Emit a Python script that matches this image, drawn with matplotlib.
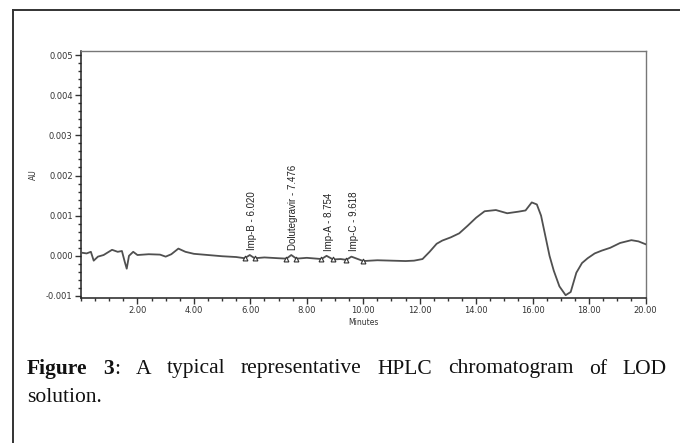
import numpy as np
import matplotlib
matplotlib.use("Agg")
import matplotlib.pyplot as plt
from matplotlib.lines import Line2D
from matplotlib.ticker import MultipleLocator, FormatStrFormatter

# ---- data ----
time_min = [0.0, 0.2, 0.35, 0.45, 0.6, 0.8, 1.1, 1.3, 1.45, 1.55, 1.62, 1.7, 1.85,
            2.0, 2.4, 2.8, 3.0, 3.2, 3.45, 3.7, 4.0, 4.5, 5.0, 5.5, 5.8, 5.98, 6.15,
            6.5, 7.0, 7.28, 7.45, 7.63, 8.0, 8.52, 8.7, 8.93, 9.2, 9.4, 9.58, 10.0,
            10.5, 11.0, 11.5, 11.8, 12.1, 12.35, 12.6, 12.8, 13.1, 13.4, 13.7, 14.0,
            14.3, 14.7, 15.1, 15.5, 15.75, 15.97, 16.15, 16.3, 16.45, 16.6, 16.75,
            16.95, 17.17, 17.35, 17.55, 17.75, 17.95, 18.2, 18.45, 18.75, 19.1,
            19.5, 19.75, 20.0]
absorbance = [0.00008, 0.00006, 0.0001, -0.00012, -0.00002, 0.00002, 0.00015, 0.0001,
              0.00012, -0.00015, -0.00032, 0.0, 0.0001,
              0.00002, 0.00004, 0.00003, -0.00002, 0.00004, 0.00018, 0.0001, 0.00005,
              0.00002, -0.00001, -0.00003, -0.00006, 0.00002, -0.00006,
              -0.00004, -0.00006, -0.00007, 0.00002, -0.00007, -0.00005, -0.00008,
              0.0, -0.00009, -0.00008, -0.0001, -0.00002, -0.00013,
              -0.00011, -0.00012, -0.00013, -0.00012, -0.00008, 0.0001, 0.0003,
              0.00038, 0.00046, 0.00056, 0.00075, 0.00095,
              0.00111, 0.00114, 0.00106, 0.0011, 0.00113, 0.00133, 0.00128, 0.001,
              0.0005, 0.0, -0.00037,
              -0.00076, -0.00098, -0.0009, -0.00042, -0.00018, -0.00006, 0.00006,
              0.00013, 0.0002, 0.00032,
              0.00039, 0.00036, 0.00029]

peak_names = ["Imp-B", "Dolutegravir", "Imp-A", "Imp-C"]
peak_rt = [6.020, 7.476, 8.754, 9.618]
peak_start = [5.8, 7.28, 8.52, 9.4]
peak_end = [6.15, 7.63, 8.93, 10.0]

x_ticks = [2, 4, 6, 8, 10, 12, 14, 16, 18, 20]
y_ticks = [-0.001, 0.0, 0.001, 0.002, 0.003, 0.004, 0.005]

caption_line1 = [("Figure", "bold"), ("3", "bold"), (":", "normal"), ("A", "normal"),
                 ("typical", "normal"), ("representative", "normal"), ("HPLC", "normal"),
                 ("chromatogram", "normal"), ("of", "normal"), ("LOD", "normal")]
caption_line2 = "solution."

# ---- figure ----
W, H = 680, 443
fig = plt.figure(figsize=(6.8, 4.43), dpi=100)
fig.patch.set_facecolor("white")

# outer frame (left and top only visible)
fig.add_artist(Line2D([13 / W, 13 / W], [0, 1 - 10 / H], transform=fig.transFigure,
                      color="#333333", lw=1.4))
fig.add_artist(Line2D([13 / W, 1], [1 - 10 / H, 1 - 10 / H], transform=fig.transFigure,
                      color="#333333", lw=1.4))

ax = fig.add_axes([81 / W, 1 - 298 / H, (645.5 - 81) / W, (298 - 51) / H])
ax.plot(time_min, absorbance, color="#505050", lw=1.3, zorder=3)

# peak start/end markers
for s, e in zip(peak_start, peak_end):
    ys = np.interp([s, e], time_min, absorbance)
    ax.plot([s, e], ys, linestyle="none", marker="^", markersize=3.5,
            markerfacecolor="white", markeredgecolor="#333333", markeredgewidth=0.8,
            zorder=4)

for name, rt in zip(peak_names, peak_rt):
    yv = np.interp(rt, time_min, absorbance)
    ax.annotate(f"{name} - {rt:.3f}", xy=(rt, yv), xytext=(1, 4),
                textcoords="offset points", rotation=90, ha="center", va="bottom",
                fontsize=7, family="Liberation Sans", color="#222222")

ax.set_xlim(0, 20)
ax.set_ylim(-0.00105, 0.0051)
ax.set_xticks(x_ticks)
ax.set_yticks(y_ticks)
ax.xaxis.set_minor_locator(MultipleLocator(0.5))
ax.yaxis.set_minor_locator(MultipleLocator(0.0002))
ax.xaxis.set_major_formatter(FormatStrFormatter("%.2f"))
ax.yaxis.set_major_formatter(FormatStrFormatter("%.3f"))
ax.tick_params(axis="both", which="major", direction="out", length=4, width=1,
               labelsize=6, colors="#333333", pad=2)
ax.tick_params(axis="both", which="minor", direction="out", length=2.5, width=1,
               colors="#333333")
for sp in ["left", "bottom"]:
    ax.spines[sp].set_color("#222222")
    ax.spines[sp].set_linewidth(1.1)
for sp in ["top", "right"]:
    ax.spines[sp].set_color("#777777")
    ax.spines[sp].set_linewidth(1.0)

ax.set_xlabel("Minutes", fontsize=5.5, color="#333333", labelpad=2)
ax.set_ylabel("AU", fontsize=5.5, color="#333333", labelpad=6)

# ---- caption (justified first line) ----
renderer = fig.canvas.get_renderer()
left_px, right_px = 27, 667
y1 = 1 - 369 / H
texts = []
for word, wt in caption_line1:
    t = fig.text(0, y1, word, fontsize=15.5, family="Liberation Serif", weight=wt,
                 va="center", ha="left", color="#111111")
    texts.append(t)
widths = [t.get_window_extent(renderer).width for t in texts]
gaps_idx = [i for i in range(1, len(texts)) if caption_line1[i][0] != ":"]
total = sum(widths)
gap = (right_px - left_px - total) / len(gaps_idx)
x = left_px
for i, t in enumerate(texts):
    if i > 0 and caption_line1[i][0] != ":":
        x += gap
    t.set_x(x / W)
    x += widths[i]

fig.text(left_px / W, 1 - 398 / H, caption_line2, fontsize=15.5, family="Liberation Serif",
         va="center", ha="left", color="#111111")

fig.savefig("out.png", dpi=100)
